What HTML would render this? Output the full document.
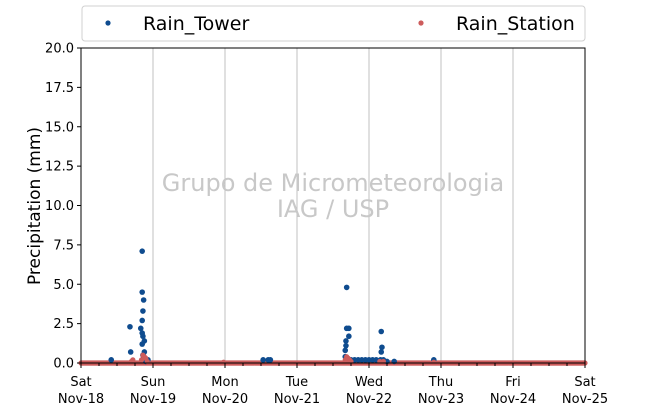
<!DOCTYPE html>
<html><head><meta charset="utf-8"><style>
body{margin:0;background:#fff;font-family:"Liberation Sans","DejaVu Sans",sans-serif}
</style></head><body>
<svg id="c" width="650" height="409" xmlns="http://www.w3.org/2000/svg" style="font-family:'DejaVu Sans','Liberation Sans',sans-serif"></svg>
<script>
const dayLabels=["Sat","Sun","Mon","Tue","Wed","Thu","Fri","Sat"];
const dateLabels=["Nov-18","Nov-19","Nov-20","Nov-21","Nov-22","Nov-23","Nov-24","Nov-25"];
const yTicks=[0,2.5,5,7.5,10,12.5,15,17.5,20];
// tower: time in days from Nov-18 00:00, value mm
const towerT=[0.42,0.68,0.69,0.85,0.85,0.87,0.86,0.85,0.83,0.85,0.86,0.88,0.85,0.88,0.86,0.89,0.93,0.87,0.9,
2.53,2.6,2.63,3.69,3.72,3.69,3.72,3.68,3.68,3.67,3.67,3.7,3.75,3.8,3.85,3.9,3.95,4.0,4.05,4.1,4.17,4.18,4.17,4.16,4.2,4.25,4.35,4.9];
const towerV=[0.2,2.3,0.7,7.1,4.5,4.0,3.3,2.7,2.2,1.9,1.7,1.4,1.2,0.7,0.5,0.3,0.2,0.4,0.1,
0.2,0.2,0.2,4.8,2.2,2.2,1.7,1.4,1.1,0.8,0.4,0.3,0.2,0.2,0.2,0.2,0.2,0.2,0.2,0.2,2.0,1.0,0.7,0.2,0.2,0.1,0.1,0.2];
const stationT=[0.7,0.72,0.84,0.86,0.88,0.9,0.92,1.98,3.67,3.69,3.71,3.73,3.75,4.15,4.2,4.9];
const stationV=[0.1,0.2,0.2,0.5,0.4,0.3,0.1,0.05,0.2,0.4,0.3,0.2,0.1,0.1,0.1,0.05];
const svg=document.getElementById('c');const NS='http://www.w3.org/2000/svg';
const X0=81,X1=585,Y0=363,Y1=48;
const xs=d=>X0+d*(X1-X0)/7, ys=v=>Y0-v*(Y0-Y1)/20;
function el(t,a,p){const e=document.createElementNS(NS,t);for(const k in a)e.setAttribute(k,a[k]);(p||svg).appendChild(e);return e;}
// grid
for(let i=1;i<7;i++){const g=el('line',{x1:xs(i),x2:xs(i),y1:Y1,y2:Y0,stroke:'#c0c0c0','stroke-width':1});

}
// watermark
const w1=el('text',{x:333,y:191,'text-anchor':'middle','font-size':24,fill:'#c8c8c8'});w1.textContent='Grupo de Micrometeorologia';


const w2=el('text',{x:333,y:217,'text-anchor':'middle','font-size':24,fill:'#c8c8c8'});w2.textContent='IAG / USP';


// station baseline: zero readings every 10 minutes
for(let k=0;k<=7*144;k++){const c=el('circle',{cx:xs(k/144),cy:ys(0),r:2.6,fill:'#cd5c5c'});

}
for(let i=0;i<towerT.length;i++){const c=el('circle',{cx:xs(towerT[i]),cy:ys(towerV[i]),r:2.8,fill:'#0f4c8f'});

}
for(let i=0;i<stationT.length;i++){const c=el('circle',{cx:xs(stationT[i]),cy:ys(stationV[i]),r:2.6,fill:'#cd5c5c'});

}
// frame
const f=el('rect',{x:X0,y:Y1,width:X1-X0,height:Y0-Y1,fill:'none',stroke:'#000','stroke-width':1});


// y ticks
yTicks.forEach(v=>{el('line',{x1:X0-4,x2:X0,y1:ys(v),y2:ys(v),stroke:'#000'});
const t=el('text',{x:X0-7,y:ys(v)+4.5,'text-anchor':'end','font-size':13});t.textContent=v.toFixed(1);

});
// x ticks
for(let k=0;k<=28;k++){el('line',{x1:xs(k/4),x2:xs(k/4),y1:Y0,y2:Y0+(k%4?3:5),stroke:'#000'});}
dayLabels.forEach((d,i)=>{const t=el('text',{x:xs(i),y:386,'text-anchor':'middle','font-size':13});t.textContent=d;


const t2=el('text',{x:xs(i),y:403,'text-anchor':'middle','font-size':13});t2.textContent=dateLabels[i];

});
const yl=el('text',{x:0,y:0,transform:'translate(40,206) rotate(-90)','text-anchor':'middle','font-size':17});yl.textContent='Precipitation (mm)';


// legend
const lg=el('g',{});
el('rect',{x:82,y:6,width:503,height:35,rx:3,fill:'#fff',stroke:'#d0d0d0'},lg);
el('circle',{cx:108,cy:23,r:2.6,fill:'#0f4c8f'},lg);
const l1=el('text',{x:143,y:30,'font-size':19},lg);l1.textContent='Rain_Tower';


el('circle',{cx:421,cy:23,r:2.6,fill:'#cd5c5c'},lg);
const l2=el('text',{x:456,y:30,'font-size':19},lg);l2.textContent='Rain_Station';


</script>
</body></html>
